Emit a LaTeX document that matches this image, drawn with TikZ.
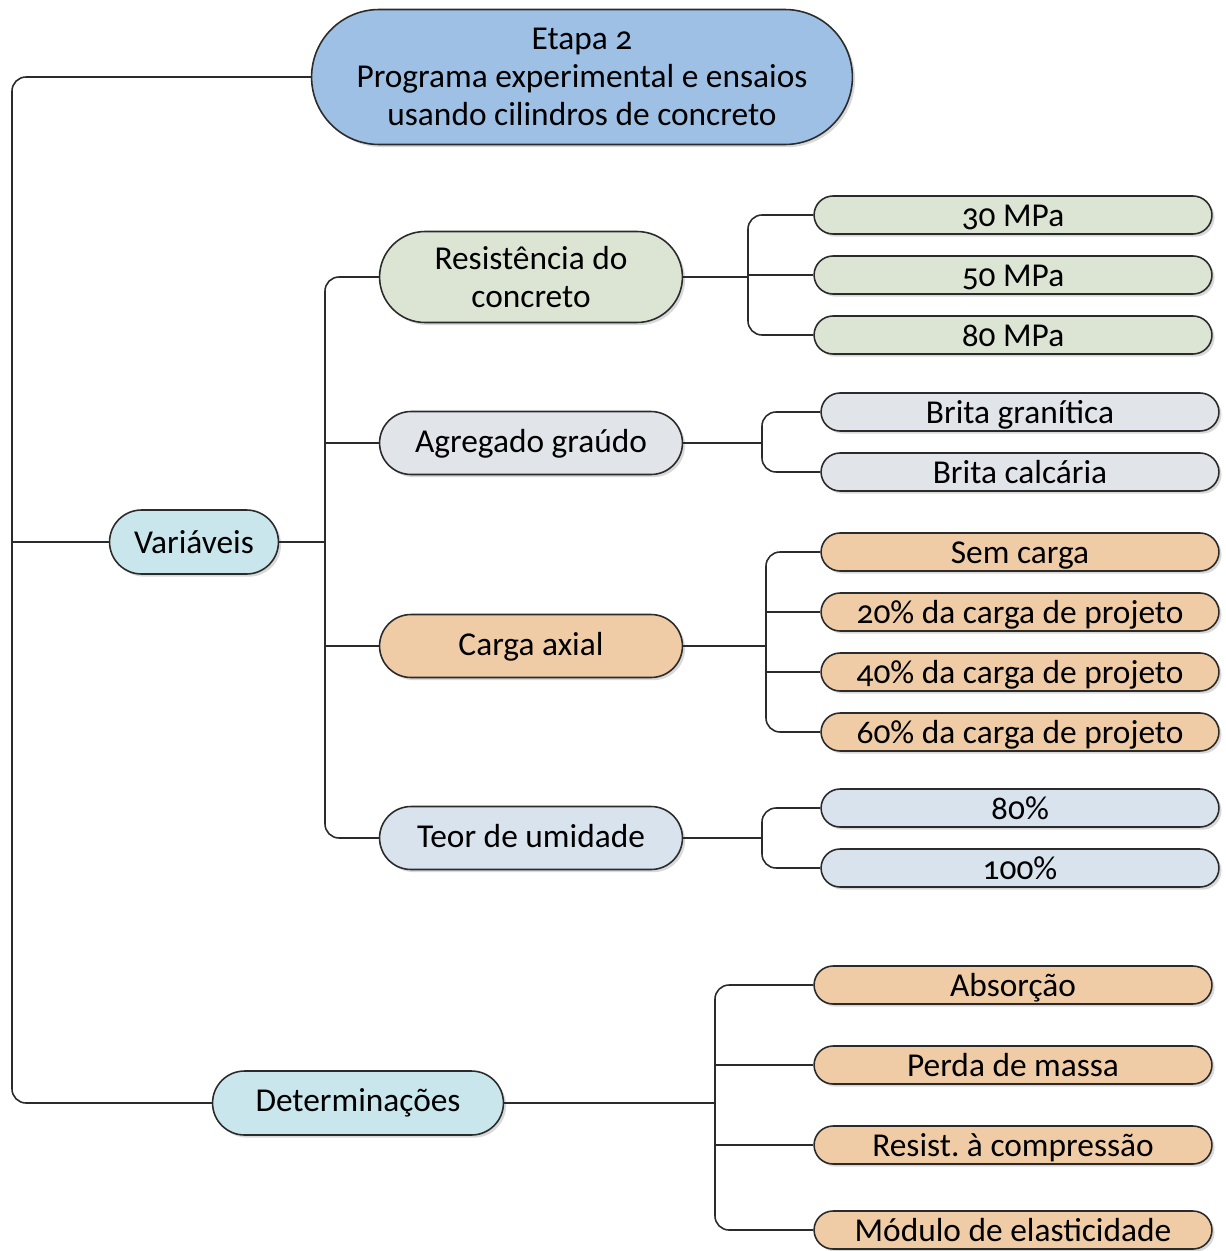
\documentclass[tikz,border=0pt]{standalone}
\usepackage{fontspec}
\setmainfont{Carlito}[Numbers=OldStyle]
\usetikzlibrary{shapes.misc,shadows}
\frenchspacing

\definecolor{topfill}{HTML}{9DC0E4}
\definecolor{catfill}{HTML}{C8E6EC}
\definecolor{greenfill}{HTML}{DCE5D4}
\definecolor{grayfill}{HTML}{E1E4E9}
\definecolor{tanfill}{HTML}{F0CCA6}
\definecolor{bluefill}{HTML}{D8E3EE}
\definecolor{linegray}{HTML}{2B2B2B}

\tikzset{
  box/.style={rounded rectangle, draw=linegray, line width=0.9pt, align=center,
    font=\fontsize{19}{21.5}\selectfont, inner xsep=4pt, inner ysep=0pt,
    drop shadow={opacity=0.3, shadow xshift=1.5pt, shadow yshift=-1.5pt}},
  topbox/.style={box, fill=topfill, minimum width=11.1cm, minimum height=2.7cm},
  catbox/.style={box, fill=catfill, minimum height=1.28cm},
  midbox/.style={box, minimum width=6.34cm, minimum height=1.26cm},
  leafbox/.style={box, minimum width=8.24cm, minimum height=0.76cm,
    text height=15pt, text depth=2pt},
  link/.style={draw=linegray, line width=0.9pt, rounded corners=8pt}
}

\begin{document}
\begin{tikzpicture}[x=0.02cm, y=-0.02cm]
\useasboundingbox (0,0) rectangle (1226,1251);

% root
\node[topbox] (top) at (582,77) {Etapa 2\\Programa experimental e ensaios\\usando cilindros de concreto};

% first level
\node[catbox, minimum width=3.66cm] (var) at (194,542) {Variáveis};
\node[catbox, minimum width=6.1cm] (det) at (358,1103) {Determinações};

% variables
\node[midbox, fill=greenfill, minimum height=1.82cm] (res) at (531,277) {Resistência do\\concreto};
\node[midbox, fill=grayfill, text height=14pt, text depth=3pt] (agr) at (531,443) {Agregado graúdo};
\node[midbox, fill=tanfill, text height=14pt, text depth=3pt] (carga) at (531,646) {Carga axial};
\node[midbox, fill=bluefill, text height=14pt, text depth=3pt] (teor) at (531,838) {Teor de umidade};

% leaves
\node[leafbox, fill=greenfill] (r30) at (1013,215) {30 MPa};
\node[leafbox, fill=greenfill] (r50) at (1013,275) {50 MPa};
\node[leafbox, fill=greenfill] (r80) at (1013,335) {80 MPa};

\node[leafbox, fill=grayfill] (gran) at (1020,412) {Brita granítica};
\node[leafbox, fill=grayfill] (calc) at (1020,472) {Brita calcária};

\node[leafbox, fill=tanfill] (sem) at (1020,552) {Sem carga};
\node[leafbox, fill=tanfill] (p20) at (1020,612) {20\% da carga de projeto};
\node[leafbox, fill=tanfill] (p40) at (1020,672) {40\% da carga de projeto};
\node[leafbox, fill=tanfill] (p60) at (1020,732) {60\% da carga de projeto};

\node[leafbox, fill=bluefill] (u80) at (1020,808) {80\%};
\node[leafbox, fill=bluefill] (u100) at (1020,868) {100\%};

\node[leafbox, fill=tanfill] (abs) at (1013,985) {Absorção};
\node[leafbox, fill=tanfill] (perda) at (1013,1065) {Perda de massa};
\node[leafbox, fill=tanfill] (comp) at (1013,1145) {Resist. à compressão};
\node[leafbox, fill=tanfill] (mod) at (1013,1230) {Módulo de elasticidade};

% connectors
\coordinate (trunk) at (12,542);
\coordinate (vbus) at (325,542);
\coordinate (rbus) at (748,277);
\coordinate (gbus) at (762,443);
\coordinate (cbus) at (766,642);
\coordinate (ubus) at (762,838);
\coordinate (dbus) at (715,1103);

\draw[link] (top.west) -| (trunk) |- (det.west);
\draw[link] (trunk) -- (var.west);

\draw[link] (var.east) -- (vbus);
\draw[link] (res.west) -| (vbus) |- (teor.west);
\draw[link] (vbus |- agr.west) -- (agr.west);
\draw[link] (vbus |- carga.west) -- (carga.west);

\draw[link] (res.east) -- (rbus);
\draw[link] (r30.west) -| (rbus) |- (r80.west);
\draw[link] (rbus |- r50.west) -- (r50.west);

\draw[link] (agr.east) -- (gbus);
\draw[link] (gran.west) -| (gbus) |- (calc.west);

\draw[link] (carga.east) -- (carga.east -| cbus);
\draw[link] (sem.west) -| (cbus) |- (p60.west);
\draw[link] (cbus |- p20.west) -- (p20.west);
\draw[link] (cbus |- p40.west) -- (p40.west);

\draw[link] (teor.east) -- (ubus);
\draw[link] (u80.west) -| (ubus) |- (u100.west);

\draw[link] (det.east) -- (dbus);
\draw[link] (abs.west) -| (dbus) |- (mod.west);
\draw[link] (dbus |- perda.west) -- (perda.west);
\draw[link] (dbus |- comp.west) -- (comp.west);
\end{tikzpicture}
\end{document}
